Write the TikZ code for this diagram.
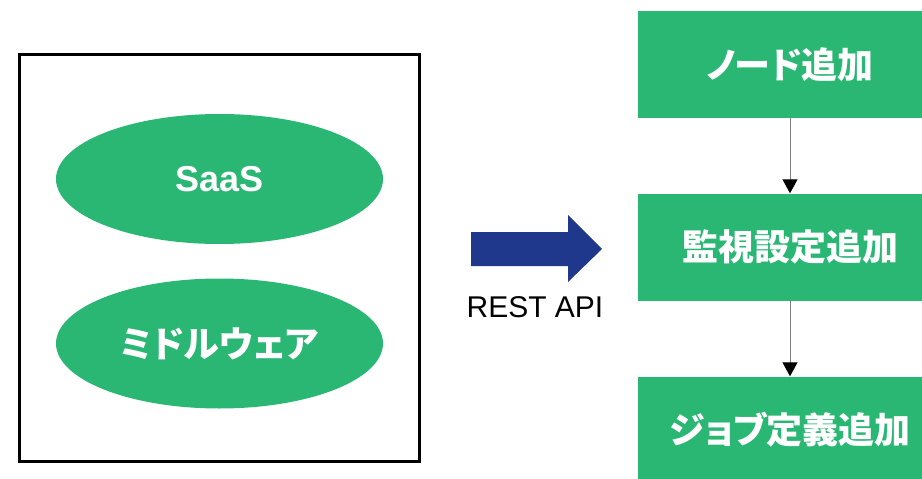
\documentclass[tikz,border=0pt]{standalone}
\usepackage{fontspec}
\setmainfont{Liberation Sans}
\newfontfamily\jp[RawFeature=+palt]{Noto Sans CJK JP}
\usetikzlibrary{shapes.geometric,arrows.meta}
\definecolor{grn}{RGB}{42,183,116}
\definecolor{navyblue}{RGB}{31,56,140}
\tikzset{
  ell/.style={ellipse, fill=grn, draw=none, minimum width=327pt, minimum height=130pt, inner sep=0pt,
    text=white, font=\fontsize{36pt}{40pt}\selectfont\bfseries},
  stepbox/.style={rectangle, fill=grn, draw=none, minimum width=304pt, minimum height=107pt, inner sep=0pt,
    text=white, font=\jp\fontsize{36pt}{40pt}\selectfont\bfseries},
  conn/.style={draw=gray, line width=1pt, -{Triangle[black,width=15pt,length=14pt]}}
}
\begin{document}
\begin{tikzpicture}[x=1pt,y=-1pt]
\useasboundingbox (0,0) rectangle (922,479);
\node[draw=black, line width=3pt, minimum width=400pt, minimum height=407pt, inner sep=0pt] (frame) at (219,257.5) {};
\node[ell] (saas) at (219.5,179) {SaaS};
\node[ell, font=\jp\fontsize{36pt}{40pt}\selectfont\bfseries] (mw) at (219.5,343.5) {ミドルウェア};
\fill[navyblue] (471,232) -- (568,232) -- (568,215) -- (602,249) -- (568,282) -- (568,266) -- (471,266) -- cycle;
\node[font=\fontsize{30pt}{34pt}\selectfont] (rest) at (535,307) {REST API};
\node[stepbox] (b1) at (790,64.5) {ノード追加};
\node[stepbox] (b2) at (790,247) {監視設定追加};
\node[stepbox] (b3) at (790,430) {ジョブ定義追加};
\draw[conn] (b1) -- (b2);
\draw[conn] (b2) -- (b3);
\end{tikzpicture}
\end{document}
